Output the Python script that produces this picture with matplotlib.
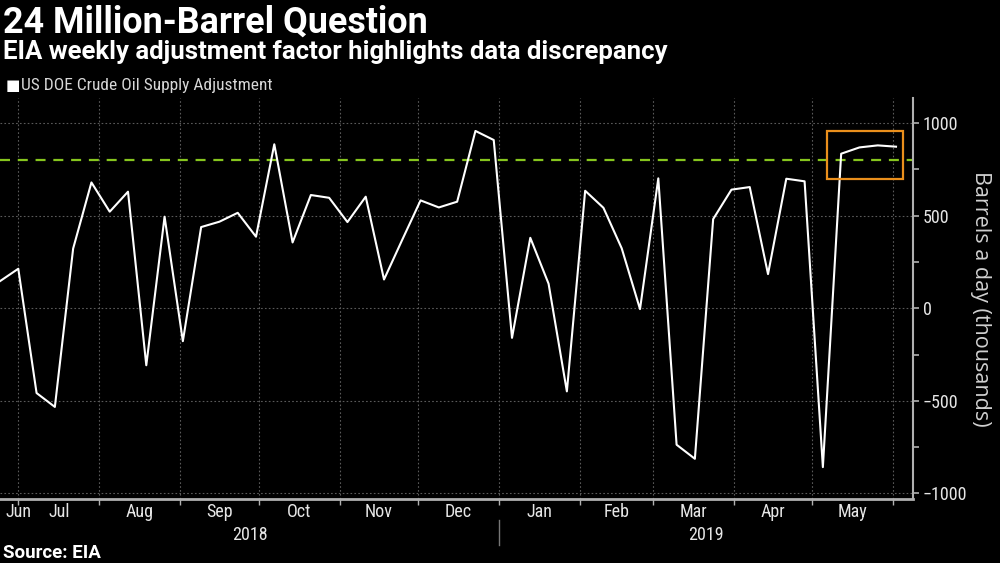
import numpy as np, pandas as pd, matplotlib
matplotlib.use('Agg')
import matplotlib.pyplot as plt
import matplotlib.dates as mdates
from matplotlib import font_manager
from matplotlib.patches import Rectangle
from matplotlib.ticker import MultipleLocator, FixedLocator, NullFormatter

# weekly supply adjustment, thousand barrels a day
week_start = "2018-06-24"
adjustment = [146, 213, -458, -533, 322, 679, 521, 629, -308, 494,
              -178, 438, 467, 515, 386, 885, 355, 611, 596, 465,
              602, 155, 370, 582, 544, 575, 957, 908, -160, 380,
              132, -449, 634, 542, 323, -5, 701, -737, -813, 481,
              640, 654, 184, 699, 685, -858, 834, 868, 879, 872]
dates = pd.date_range(week_start, periods=len(adjustment), freq="7D")
threshold = 800
box_dates = ("2019-05-06 16:00", "2019-06-04 20:00")
box_vals = (700, 957)
month_names = ["Jun", "Jul", "Aug", "Sep", "Oct", "Nov", "Dec",
               "Jan", "Feb", "Mar", "Apr", "May"]
years = ["2018", "2019"]

have = {f.name for f in font_manager.fontManager.ttflist}
def pick(*names):
    for n in names:
        if n in have:
            return n
    return "DejaVu Sans"
NARROW = pick("Liberation Sans Narrow", "DejaVu Sans Condensed", "Roboto Condensed", "Roboto")
HEAD = pick("DejaVu Sans Condensed", "Liberation Sans Narrow", "Roboto")
plt.rcParams['font.family'] = NARROW

GREEN, ORANGE, GRID, AXC = '#86c51e', '#ea8f1c', '#5a5a5a', '#b0b0b0'

fig = plt.figure(figsize=(10, 5.63), dpi=100, facecolor='black')
ax = fig.add_axes([0.0, 0.1137, 0.913, 0.7123], facecolor='black')

ax.plot(dates, adjustment, color='white', lw=1.5, zorder=3)
ax.axhline(threshold, color=GREEN, lw=1.6, ls=(0, (4.5, 3.5)), zorder=2)
b0, b1 = mdates.date2num(pd.Timestamp(box_dates[0])), mdates.date2num(pd.Timestamp(box_dates[1]))
ax.add_patch(Rectangle((b0, box_vals[0]), b1 - b0, box_vals[1] - box_vals[0],
                       fill=False, ec=ORANGE, lw=1.6, zorder=4))

x0, x1 = pd.Timestamp("2018-06-24"), pd.Timestamp("2019-06-08 12:00")
ax.set_xlim(x0, x1)
ax.set_ylim(-1030, 1135)

# axes / spines
for s in ['left', 'top']:
    ax.spines[s].set_visible(False)
ax.spines['bottom'].set_color(AXC); ax.spines['bottom'].set_linewidth(2)
ax.spines['right'].set_color(AXC); ax.spines['right'].set_linewidth(1.5)

ax.yaxis.tick_right()
ax.yaxis.set_major_locator(MultipleLocator(500))
ax.yaxis.set_minor_locator(MultipleLocator(250))
ax.tick_params(axis='y', which='both', colors=AXC, labelcolor='#e6e6e6',
               labelsize=13, length=4, width=1.2, pad=3)
ax.yaxis.set_label_position('right')
ax.set_ylabel("Barrels a day (thousands)", rotation=270, color='#d0d0d0',
              fontsize=15.5, labelpad=17, family=pick("Open Sans", "Lato", "DejaVu Sans"))

bounds = pd.date_range("2018-07-01", "2019-06-01", freq="MS")
ax.xaxis.set_major_locator(FixedLocator(mdates.date2num(bounds)))
ax.xaxis.set_major_formatter(NullFormatter())
ax.tick_params(axis='x', which='major', colors=AXC, length=4, width=1)

ax.grid(True, which='major', color=GRID, ls=(0, (1.5, 2)), lw=0.8)
ax.set_axisbelow(True)

# month labels centred in each month
edges = [x0] + list(bounds) + [x1]
for i, m in enumerate(month_names):
    a, b = edges[i], edges[i + 1]
    if i == 0:
        ax.text(x0 + pd.Timedelta(days=2), -0.032, m, transform=ax.get_xaxis_transform(),
                ha='left', va='center', color='#e6e6e6', fontsize=13)
        continue
    ax.text(a + (b - a) / 2, -0.032, m, transform=ax.get_xaxis_transform(),
            ha='center', va='center', color='#e6e6e6', fontsize=13)

jan = pd.Timestamp("2019-01-01")
for yr, (a, b) in zip(years, [(x0, jan), (jan, x1)]):
    ax.text(a + (b - a) / 2, -0.09, yr, transform=ax.get_xaxis_transform(),
            ha='center', va='center', color='#e6e6e6', fontsize=13)
ax.plot([jan, jan], [-0.052, -0.115], transform=ax.get_xaxis_transform(),
        color='#777777', lw=1, clip_on=False)

fig.text(0.003, 0.959, "24 Million-Barrel Question", color='white', fontsize=25.8,
         fontweight='bold', family=HEAD, ha='left', va='center')
fig.text(0.003, 0.908, "EIA weekly adjustment factor highlights data discrepancy",
         color='white', fontsize=18.5, fontweight='bold', family=HEAD, ha='left', va='center')
fig.text(0.006, 0.849, "\u25A0", color='white', fontsize=11, ha='left', va='center',
         family='DejaVu Sans')
fig.text(0.021, 0.849, "US DOE Crude Oil Supply Adjustment", color='#d8d8d8',
         fontsize=12.5, ha='left', va='center')
fig.text(0.003, 0.018, "Source: EIA", color='white', fontsize=13.5, fontweight='bold',
         family=HEAD, ha='left', va='center')

fig.savefig('out.png', dpi=100, facecolor='black')
